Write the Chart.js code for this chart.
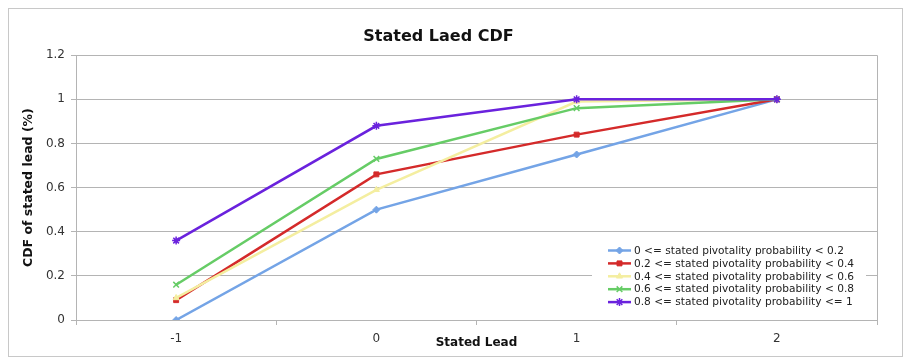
<!DOCTYPE html>
<html>
<head>
<meta charset="utf-8">
<script src="https://cdn.jsdelivr.net/npm/chart.js@4/dist/chart.umd.min.js"></script>
<style>
  html, body { margin: 0; padding: 0; background: #ffffff; }
  #wrap { width: 909px; height: 362px; position: relative; }
</style>
</head>
<body>
<div id="wrap"><canvas id="c" width="909" height="362"></canvas></div>
<script>
const categories = ['-1', '0', '1', '2'];
const seriesLabels = [
  '0 <= stated pivotality probability < 0.2',
  '0.2 <= stated pivotality probability < 0.4',
  '0.4 <= stated pivotality probability < 0.6',
  '0.6 <= stated pivotality probability < 0.8',
  '0.8 <= stated pivotality probability <= 1'
];
const pivot0to02 = [0, 0.5, 0.75, 1];
const pivot02to04 = [0.09, 0.66, 0.84, 1];
const pivot04to06 = [0.1, 0.59, 0.99, 1];
const pivot06to08 = [0.16, 0.73, 0.96, 1];
const pivot08to1 = [0.36, 0.88, 1, 1];
const chartTitle = 'Stated Laed CDF';
const xTitle = 'Stated Lead';
const yTitle = 'CDF of stated lead (%)';

const colors = ['#74a4e6', '#d42a2a', '#f4eea0', '#66cc66', '#6a22dd'];
const styles = ['rectRot', 'rect', 'triangle', 'crossRot', 'star'];
const allSeries = [pivot0to02, pivot02to04, pivot04to06, pivot06to08, pivot08to1];

const datasets = allSeries.map((d, i) => ({
  label: seriesLabels[i],
  data: d,
  borderColor: colors[i],
  backgroundColor: colors[i],
  pointBackgroundColor: colors[i],
  pointBorderColor: colors[i],
  pointStyle: styles[i],
  pointRadius: (styles[i] === 'crossRot' || styles[i] === 'star') ? 4 : 3.5,
  pointBorderWidth: (styles[i] === 'crossRot' || styles[i] === 'star') ? 1.5 : 1,
  borderWidth: 2.5,
  tension: 0,
  fill: false,
  order: 4 - i
}));

const framePlugin = {
  id: 'frame',
  beforeDraw(chart) {
    const ctx = chart.ctx;
    ctx.save();
    ctx.fillStyle = '#ffffff';
    ctx.fillRect(0, 0, chart.width, chart.height);
    ctx.strokeStyle = '#c8c8c8';
    ctx.lineWidth = 1;
    ctx.strokeRect(8.5, 8.5, 894, 348);
    ctx.restore();
  },
  afterDraw(chart) {
    const ca = chart.chartArea;
    const ctx = chart.ctx;
    ctx.save();
    ctx.strokeStyle = '#b4b4b4';
    ctx.lineWidth = 1;
    ctx.beginPath();
    ctx.moveTo(Math.round(ca.left) + 0.5, Math.round(ca.top) + 0.5);
    ctx.lineTo(Math.round(ca.right) + 0.5, Math.round(ca.top) + 0.5);
    ctx.lineTo(Math.round(ca.right) + 0.5, Math.round(ca.bottom) + 0.5);
    ctx.stroke();
    ctx.restore();
  }
};

const legendPlugin = {
  id: 'boxLegend',
  afterDatasetsDraw(chart) {
    const ctx = chart.ctx;
    ctx.save();
    ctx.fillStyle = '#ffffff';
    ctx.fillRect(592, 238, 274, 78);
    const rowY = 250.5;
    const rowH = 12.9;
    ctx.textBaseline = 'middle';
    ctx.textAlign = 'left';
    chart.data.datasets.forEach((ds, i) => {
      const y = rowY + i * rowH;
      ctx.strokeStyle = ds.borderColor;
      ctx.lineWidth = 2.5;
      ctx.beginPath();
      ctx.moveTo(608, y);
      ctx.lineTo(631, y);
      ctx.stroke();
      if (Chart.helpers && Chart.helpers.drawPoint) {
        ctx.fillStyle = ds.backgroundColor;
        ctx.strokeStyle = ds.borderColor;
        ctx.lineWidth = ds.pointBorderWidth;
        Chart.helpers.drawPoint(ctx, {
          pointStyle: ds.pointStyle,
          radius: ds.pointRadius,
          rotation: 0,
          borderWidth: ds.pointBorderWidth
        }, 619.5, y);
      }
      ctx.font = '10.6px "DejaVu Sans"';
      ctx.fillStyle = '#222222';
      ctx.fillText(ds.label, 634, y + 0.5);
    });
    ctx.restore();
  }
};

new Chart(document.getElementById('c'), {
  type: 'line',
  data: { labels: categories, datasets: datasets },
  plugins: [framePlugin, legendPlugin],
  options: {
    responsive: false,
    animation: false,
    layout: { padding: { left: 0, right: 32, top: 0, bottom: 0 } },
    plugins: {
      legend: { display: false },
      tooltip: { enabled: false },
      title: {
        display: true,
        text: chartTitle,
        color: '#111111',
        font: { family: '"DejaVu Sans"', size: 16, weight: 'bold', lineHeight: 1.2 },
        padding: { top: 27, bottom: 9 }
      }
    },
    scales: {
      x: {
        type: 'category',
        offset: true,
        afterFit(s) { s.height = 42; },
        grid: {
          offset: true,
          drawOnChartArea: false,
          drawTicks: true,
          tickLength: 5,
          color: '#b4b4b4'
        },
        border: { display: true, color: '#b4b4b4' },
        ticks: {
          color: '#333333',
          padding: 7,
          font: { family: '"DejaVu Sans"', size: 12 }
        },
        title: {
          display: true,
          text: xTitle,
          color: '#111111',
          font: { family: '"DejaVu Sans"', size: 12, weight: 'bold' },
          padding: { top: 0, bottom: 12 }
        }
      },
      y: {
        min: 0,
        max: 1.2,
        afterFit(s) { s.width = 76; },
        grid: {
          color: '#b4b4b4',
          tickLength: 5,
          drawTicks: true
        },
        border: { display: true, color: '#b4b4b4' },
        ticks: {
          stepSize: 0.2,
          color: '#333333',
          padding: 6,
          font: { family: '"DejaVu Sans"', size: 12 },
          callback: (v) => String(Math.round(v * 10) / 10)
        },
        title: {
          display: true,
          text: yTitle,
          color: '#111111',
          font: { family: '"DejaVu Sans"', size: 12.5, weight: 'bold' },
          padding: { top: 21, bottom: 0 }
        }
      }
    }
  }
});
</script>
</body>
</html>
